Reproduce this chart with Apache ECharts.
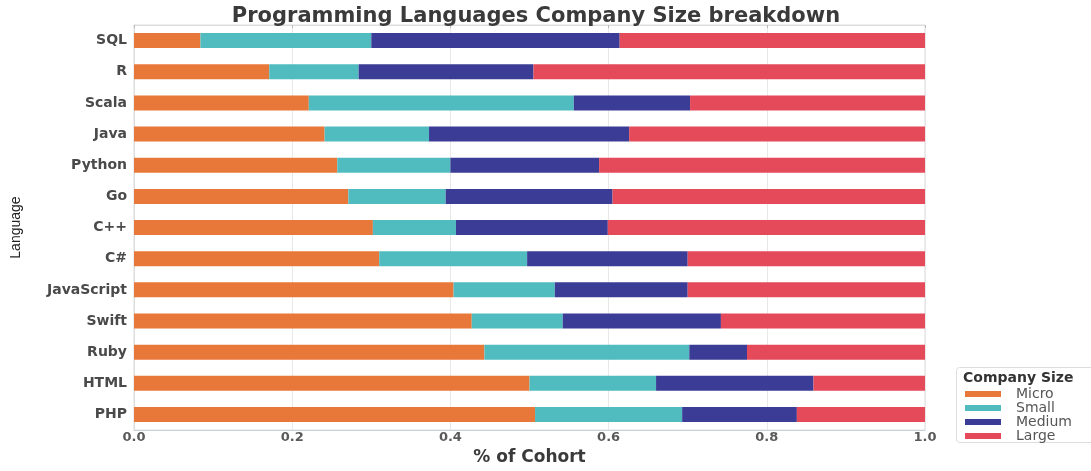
<!DOCTYPE html>
<html>
<head>
<meta charset="utf-8">
<title>Programming Languages Company Size breakdown</title>
<script src="https://cdn.jsdelivr.net/npm/echarts@6/dist/echarts.min.js"></script>
<style>
  html, body { margin: 0; padding: 0; background: #fff; }
  #chart { width: 1091px; height: 471px; }
</style>
</head>
<body>
<div id="chart"></div>
<script>
// share of cohort by company size, top to bottom
var languages = ['SQL', 'R', 'Scala', 'Java', 'Python', 'Go', 'C++', 'C#', 'JavaScript', 'Swift', 'Ruby', 'HTML', 'PHP'];
var micro  = [0.084, 0.171, 0.221, 0.241, 0.257, 0.271, 0.302, 0.310, 0.404, 0.427, 0.443, 0.500, 0.507];
var small  = [0.216, 0.113, 0.335, 0.132, 0.143, 0.123, 0.105, 0.187, 0.128, 0.115, 0.259, 0.160, 0.186];
var medium = [0.314, 0.221, 0.147, 0.253, 0.188, 0.211, 0.192, 0.203, 0.168, 0.200, 0.073, 0.199, 0.145];
var large  = [0.386, 0.495, 0.297, 0.374, 0.412, 0.395, 0.401, 0.300, 0.300, 0.258, 0.225, 0.141, 0.162];
var sizeNames = ['Micro', 'Small', 'Medium', 'Large'];

var colors = ['#e8783a', '#50bcc0', '#3b3c95', '#e44a59'];
var font = 'DejaVu Sans';

var chart = echarts.init(document.getElementById('chart'));

function bar(name, data, idx) {
  return {
    name: name,
    type: 'bar',
    stack: 'size',
    barWidth: 15,
    data: data,
    itemStyle: { color: colors[idx] },
    emphasis: { disabled: true }
  };
}

var option = {
  animation: false,
  textStyle: { fontFamily: font },
  title: [
    {
      text: 'Programming Languages Company Size breakdown',
      left: 531,
      top: 1,
      textAlign: 'center',
      textStyle: { fontFamily: font, fontSize: 21, fontWeight: 'bold', color: '#3a3a3a' }
    },
    {
      text: 'Company Size',
      left: 963,
      top: 371,
      padding: 0,
      textStyle: { fontFamily: font, fontSize: 14, fontWeight: 'bold', color: '#333' }
    }
  ],
  graphic: [
    {
      type: 'rect',
      z: 0,
      shape: { x: 956.5, y: 367.5, width: 140, height: 75, r: 3 },
      style: { fill: '#fff', stroke: '#dddddd', lineWidth: 1 }
    }
  ],
  legend: {
    orient: 'vertical',
    left: 965,
    top: 387,
    padding: 0,
    itemGap: 0,
    itemWidth: 36,
    itemHeight: 6,
    icon: 'rect',
    data: sizeNames,
    textStyle: { fontFamily: font, fontSize: 14, lineHeight: 13.4, color: '#555', padding: [0, 0, 0, 10] }
  },
  grid: {
    left: 134,
    right: 166,
    top: 25,
    bottom: 27,
    show: true,
    borderColor: '#dddddd',
    borderWidth: 1
  },
  xAxis: [
    {
      type: 'value',
      min: 0,
      max: 1,
      interval: 0.2,
      name: '% of Cohort',
      nameLocation: 'middle',
      nameGap: 16,
      nameTextStyle: { fontFamily: font, fontSize: 17, fontWeight: 'bold', color: '#3a3a3a' },
      axisLine: { show: true, lineStyle: { color: '#c8d0dc' } },
      axisTick: { show: false },
      axisLabel: {
        margin: 1,
        fontFamily: font,
        fontSize: 13,
        fontWeight: 'bold',
        color: '#5a5a5a',
        formatter: function (v) { return v.toFixed(1); }
      },
      splitLine: { show: true, lineStyle: { color: '#e8e8e8' } }
    },
    {
      type: 'value',
      position: 'top',
      min: 0,
      max: 1,
      interval: 0.2,
      axisLine: { show: true, lineStyle: { color: '#dddddd' } },
      axisTick: { show: true, inside: true, length: 3, lineStyle: { color: '#bbb' } },
      axisLabel: { show: false },
      splitLine: { show: false }
    }
  ],
  yAxis: {
    type: 'category',
    inverse: true,
    data: languages,
    name: 'Language',
    nameLocation: 'middle',
    nameGap: 111,
    nameTextStyle: { fontFamily: 'Liberation Sans', fontSize: 14, color: '#222' },
    axisLine: { show: true, lineStyle: { color: '#dddddd' } },
    axisTick: { show: false },
    axisLabel: { margin: 7, fontFamily: font, fontSize: 14, fontWeight: 'bold', color: '#4a4a4a' }
  },
  series: [
    bar('Micro', micro, 0),
    bar('Small', small, 1),
    bar('Medium', medium, 2),
    bar('Large', large, 3)
  ]
};

chart.setOption(option);
</script>
</body>
</html>
